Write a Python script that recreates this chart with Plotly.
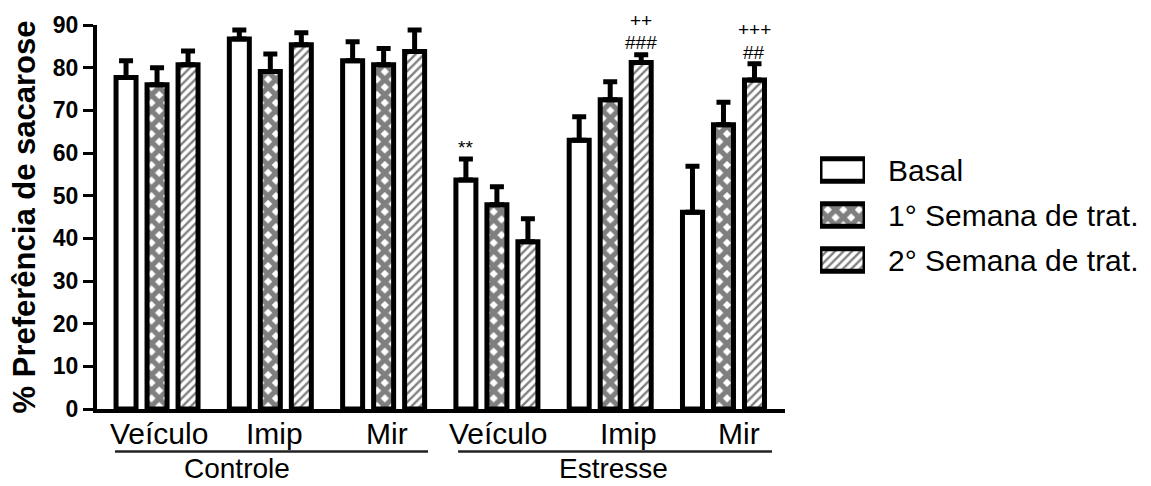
import plotly.graph_objects as go

# ---------------- data ----------------
groups = ["Veículo", "Imip", "Mir", "Veículo", "Imip", "Mir"]
conditions = ["Controle", "Estresse"]
series_names = ["Basal", "1° Semana de trat.", "2° Semana de trat."]

basal = [77.7, 86.7, 81.6, 53.7, 63.0, 46.1]
sem1 = [76.0, 79.1, 80.7, 47.9, 72.5, 66.6]
sem2 = [80.7, 85.4, 83.8, 39.2, 81.2, 77.1]

basal_err = [3.9, 2.1, 4.5, 4.9, 5.5, 10.8]
sem1_err = [4.0, 4.1, 3.8, 4.2, 4.2, 5.3]
sem2_err = [3.2, 2.8, 5.0, 5.4, 1.8, 3.8]

y_ticks = [0, 10, 20, 30, 40, 50, 60, 70, 80, 90]

# significance marks: (text, group index, series index, y value)
sig_marks = [
    ("**", 3, 0, 61.2),
    ("++", 4, 2, 91.0),
    ("###", 4, 2, 85.9),
    ("+++", 5, 2, 89.0),
    ("##", 5, 2, 83.6),
]

# ---------------- styling ----------------
FONT = "Arial, 'Liberation Sans', sans-serif"
W, H = 1151, 486
ML, MR, MT, MB = 97, 6, 25, 77
plot_w = W - ML - MR
Y_MAX = 90
BARGAP = 0.179
GROUPGAP = 0.355
slot = (1 - BARGAP) / 3

patterns = ["", "x", "/"]
pat_size = [6, 11, 6]
pat_solid = [0.3, 0.72, 0.4]
values = [basal, sem1, sem2]
errors = [basal_err, sem1_err, sem2_err]

x_idx = list(range(len(groups)))

fig = go.Figure()
for k, (name, vals, errs) in enumerate(zip(series_names, values, errors)):
    fig.add_trace(go.Bar(
        x=x_idx, y=vals, name=name, showlegend=False,
        marker=dict(color="white", line=dict(color="black", width=5),
                    pattern=dict(shape=patterns[k], fgcolor="black",
                                 bgcolor="white", size=pat_size[k],
                                 solidity=pat_solid[k])),
        error_y=dict(type="data", symmetric=False, array=errs,
                     arrayminus=[0] * len(errs), color="black",
                     thickness=5, width=7),
    ))

# legend swatches drawn as a small horizontal bar chart on its own axes
fig.add_trace(go.Bar(
    orientation="h", y=[0, 1, 2], x=[1, 1, 1], width=0.5,
    xaxis="x2", yaxis="y2", showlegend=False, cliponaxis=False,
    marker=dict(color="white", line=dict(color="black", width=5),
                pattern=dict(shape=patterns, fgcolor="black", bgcolor="white",
                             size=pat_size, solidity=pat_solid)),
    hoverinfo="skip",
))

annotations = []
# significance annotations (paper y so marks above the axis top still show)
for txt, g, s, yv in sig_marks:
    annotations.append(dict(
        x=g + (s - 1) * slot, y=yv / Y_MAX, xref="x", yref="paper", text=txt,
        showarrow=False, font=dict(family=FONT, size=19, color="black"),
        xanchor="center", yanchor="middle"))

# group tick labels
label_shift = [0.02, 0.04, 0.03, 0.01, 0.16, 0.14]
for i, (g, s) in enumerate(zip(groups, label_shift)):
    annotations.append(dict(
        x=i + s, y=-0.063, xref="x", yref="paper", text=g, showarrow=False,
        font=dict(family=FONT, size=30, color="black"),
        xanchor="center", yanchor="middle"))

# condition labels with underlines
cond_x = [0.706, 4.025]
line_spans = [(-0.371, 2.392), (2.657, 5.428)]
for c, cx in zip(conditions, cond_x):
    annotations.append(dict(
        x=cx, y=-0.156, xref="x", yref="paper", text=c, showarrow=False,
        font=dict(family=FONT, size=28, color="black"),
        xanchor="center", yanchor="middle"))

shapes = []
for x0, x1 in line_spans:
    shapes.append(dict(type="line", xref="x", yref="paper", x0=x0, x1=x1,
                       y0=-0.111, y1=-0.111,
                       line=dict(color="#222222", width=2.5)))

main_dom = (785 - ML) / plot_w
leg_x0 = (820 - ML) / plot_w
leg_x1 = (865 - ML) / plot_w
ph = H - MT - MB
leg_y0 = (H - MB - 282.5) / ph
leg_y1 = (H - MB - 147.5) / ph

fig.update_layout(
    width=W, height=H,
    margin=dict(l=ML, r=MR, t=MT, b=MB, pad=0),
    paper_bgcolor="white", plot_bgcolor="white",
    barmode="group", bargap=BARGAP, bargroupgap=GROUPGAP,
    font=dict(family=FONT, color="black"),
    annotations=annotations, shapes=shapes,
    xaxis=dict(
        domain=[0, main_dom], range=[-0.53, 5.543],
        showline=True, linewidth=4, linecolor="black",
        showgrid=False, zeroline=False, ticks="", showticklabels=False,
    ),
    yaxis=dict(
        range=[0, Y_MAX], showline=True, linewidth=4, linecolor="black",
        showgrid=False, zeroline=False, ticks="outside", ticklen=10,
        tickwidth=3, tickcolor="black", tickvals=y_ticks,
        tickfont=dict(family=FONT, size=23, color="black", weight="bold"),
        title=dict(text="% Preferência de sacarose", standoff=9,
                   font=dict(family=FONT, size=31, color="black", weight="bold")),
    ),
    xaxis2=dict(domain=[leg_x0, leg_x1], range=[0, 1], anchor="y2",
                visible=False, fixedrange=True),
    yaxis2=dict(domain=[leg_y0, leg_y1], range=[2.5, -0.5], anchor="x2",
                side="right", showline=False, showgrid=False, zeroline=False,
                ticks="", tickvals=[0, 1, 2], ticktext=series_names,
                tickfont=dict(family=FONT, size=30, color="black"),
                ticklabelstandoff=22, fixedrange=True),
)

fig.write_html("out.html")
